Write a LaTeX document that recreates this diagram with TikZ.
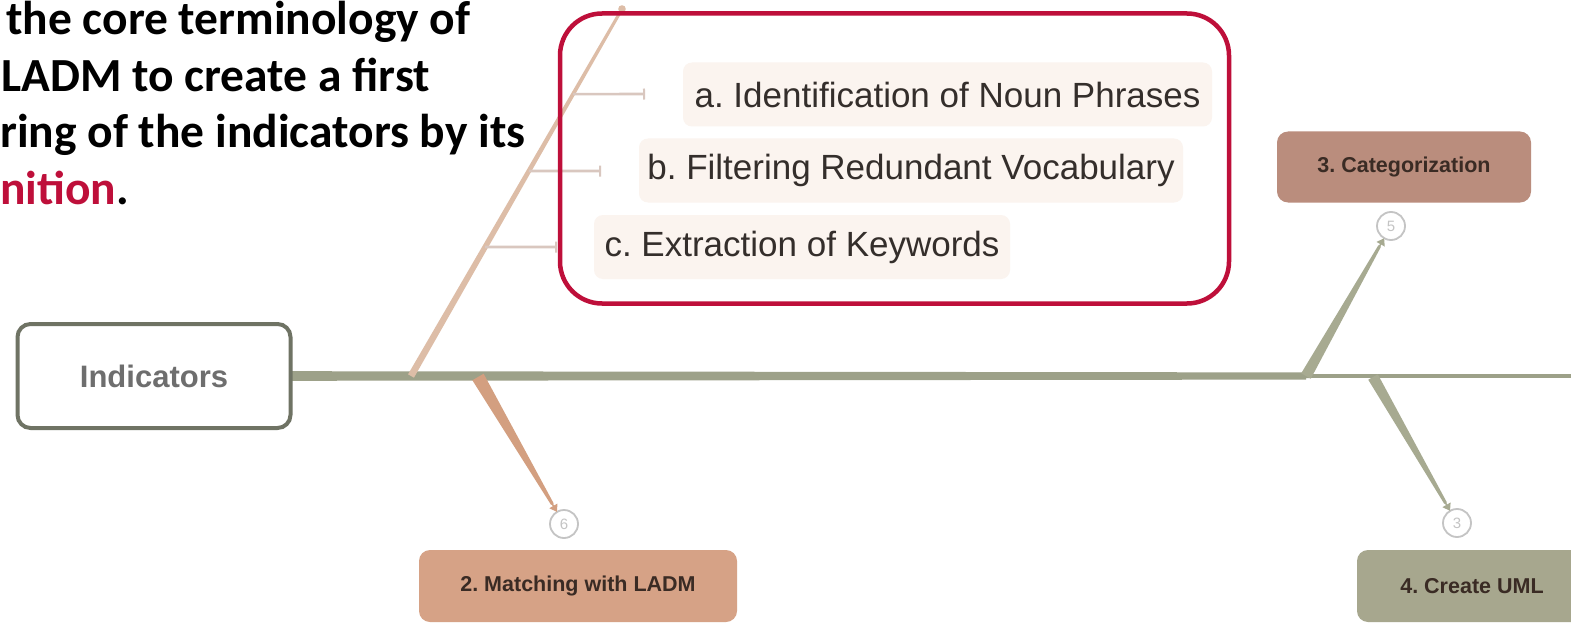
\documentclass[tikz,border=0pt]{standalone}
\usepackage{fontspec}
\setmainfont{Liberation Sans}
\newfontfamily\headfont{Carlito}
\usetikzlibrary{calc,arrows.meta}
\frenchspacing

\definecolor{spinecol}{HTML}{9DA189}
\definecolor{framecol}{HTML}{6F7364}
\definecolor{labelgray}{HTML}{6E6E6E}
\definecolor{boneA}{HTML}{DDBDA7}
\definecolor{boneB}{HTML}{D39F80}
\definecolor{boneC}{HTML}{A7AA91}
\definecolor{twigcol}{HTML}{D9C7BF}
\definecolor{itemfill}{HTML}{FBF4EF}
\definecolor{itemtext}{HTML}{342E2B}
\definecolor{accent}{HTML}{BE0F3A}
\definecolor{matchfill}{HTML}{D6A286}
\definecolor{catfill}{HTML}{BA8D7D}
\definecolor{umlfill}{HTML}{A7A78E}
\definecolor{steptext}{HTML}{3A2B24}
\definecolor{ringcol}{HTML}{C4C4C4}

% tapered bone: colour, start, end, half width at start, half width at end
\newcommand\taperbone[5]{%
  \fill[#1] ($(#2)!#4!90:(#3)$) -- ($(#2)!#4!-90:(#3)$)
    -- ($(#3)!#5!90:(#2)$) -- ($(#3)!#5!-90:(#2)$) -- cycle;}

\tikzset{
  headline/.style={anchor=base west, inner sep=0pt,
    font=\headfont\bfseries\fontsize{47.5}{57}\selectfont},
  itembox/.style={fill=itemfill, rounded corners=9pt, inner sep=0pt,
    text=itemtext, font=\fontsize{35}{40}\selectfont, minimum height=64pt},
  stepbox/.style={rounded corners=11pt, inner sep=0pt, text=steptext,
    font=\bfseries\fontsize{21.5}{26}\selectfont, minimum height=72pt},
  ring/.style={circle, draw=ringcol, line width=1.8pt, fill=white,
    minimum size=28pt, inner sep=0pt, text=ringcol,
    font=\fontsize{15}{17}\selectfont},
  twig/.style={draw=twigcol, line width=2.6pt,
    -{Bar[width=11pt,line width=2pt]}},
  tipB/.style={draw=boneB, line width=1.5pt,
    -{Triangle[length=7pt,width=9pt]}},
  tipC/.style={draw=boneC, line width=1.5pt,
    -{Triangle[length=7pt,width=9pt]}},
}

\begin{document}
\begin{tikzpicture}[x=1pt,y=-1pt]
\clip (0,0) rectangle (1571,623);
\fill[white] (0,0) rectangle (1571,623);

% heading text
\node[headline] (h1) at (6,35) {the core terminology of};
\node[headline] (h2) at (1,92) {LADM to create a first};
\node[headline] (h3) at (0,148) {ring of the indicators by its};
\node[headline] (h4) at (0,204) {\textcolor{accent}{nition}.};

% spine: thick up to the third bone, thinner beyond
\coordinate (spL) at (292,376);
\coordinate (spM) at (1306,376);
\coordinate (spR) at (1590,376);
\fill[spinecol] (spL) ++(0,-4.8) -- ($(spM)+(0,-3.6)$) -- ($(spM)+(0,-2)$)
  -- ($(spR)+(0,-1.8)$) -- ($(spR)+(0,1.8)$) -- ($(spM)+(0,2)$)
  -- ($(spM)+(0,3.6)$) -- ($(spL)+(0,4.8)$) -- cycle;

\coordinate (j1) at (411,376);
\coordinate (j2) at (478,377);
\coordinate (j3) at (1306,376);
\coordinate (j4) at (1373,377);

% head box
\node[draw=framecol, line width=4pt, rounded corners=13pt, fill=white,
  minimum width=273pt, minimum height=104pt, inner sep=0pt,
  text=labelgray, font=\bfseries\fontsize{31}{36}\selectfont]
  (ind) at (154,376) {Indicators};

% upper-left bone with its three twigs
\coordinate (top) at (622,9);
\taperbone{boneA}{j1}{top}{3.4pt}{1.5pt}
\fill[boneA] (top) circle (3.8pt);
\coordinate (ba) at ($(j1)!0.768!(top)$);
\coordinate (bb) at ($(j1)!0.5586!(top)$);
\coordinate (bc) at ($(j1)!0.3515!(top)$);
\coordinate (ta) at (645,94);
\coordinate (tb) at (601,171);
\coordinate (tc) at (557,247);
\draw[twig] (ba) -- (ta);
\draw[twig] (bb) -- (tb);
\draw[twig] (bc) -- (tc);

% sub-steps
\node[itembox, minimum width=529pt] (sa) at (947.5,94.5)
  {a. Identification of Noun Phrases};
\node[itembox, minimum width=544pt] (sb) at (911,170.5)
  {b. Filtering Redundant Vocabulary};
\node[itembox, minimum width=416pt] (sc) at (802,247)
  {c. Extraction of Keywords};

% highlight frame
\node[draw=accent, line width=4.5pt, rounded corners=42pt,
  minimum width=669pt, minimum height=290pt, inner sep=0pt]
  (hl) at (894.5,158.5) {};

% step 2
\node[ring] (c6) at (564,524) {6};
\taperbone{boneB}{j2}{$(c6)!23pt!(j2)$}{6.5pt}{1.5pt}
\draw[tipB] ($(c6)!24pt!(j2)$) -- ($(c6)!14pt!(j2)$);
\node[stepbox, fill=matchfill, minimum width=318pt] (s2) at (578,586)
  {2. Matching with LADM};

% step 3
\node[ring] (c5) at (1391,226) {5};
\taperbone{boneC}{j3}{$(c5)!23pt!(j3)$}{5.5pt}{1.5pt}
\draw[tipC] ($(c5)!24pt!(j3)$) -- ($(c5)!14pt!(j3)$);
\node[stepbox, fill=catfill, minimum width=254pt, minimum height=71pt]
  (s3) at (1404,167) {3. Categorization};

% step 4
\node[ring] (c3) at (1457,523) {3};
\taperbone{boneC}{j4}{$(c3)!23pt!(j4)$}{5.5pt}{1.5pt}
\draw[tipC] ($(c3)!24pt!(j4)$) -- ($(c3)!14pt!(j4)$);
\node[stepbox, fill=umlfill, minimum width=230pt] (s4) at (1472,586)
  {4. Create UML};
\end{tikzpicture}
\end{document}
